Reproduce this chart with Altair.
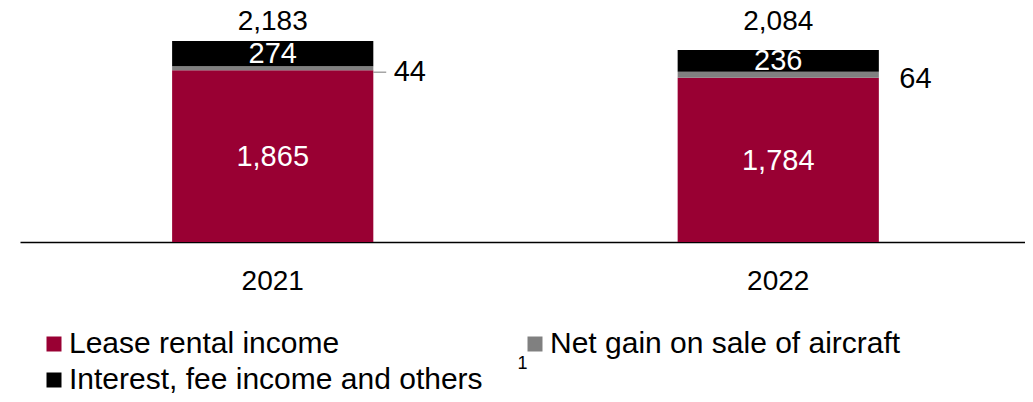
import altair as alt
import pandas as pd

years = ["2021", "2022"]
lease_income = [1865, 1784]
net_gain = [44, 64]
interest_fee = [274, 236]
totals = [2183, 2084]
leader_line = [True, False]

series_names = ["Lease rental income", "Net gain on sale of aircraft",
                "Interest, fee income and others"]
series_colors = ["#990033", "#808080", "#000000"]
footnote = ["1"]

rows = []
for i, yr in enumerate(years):
    for rank, (name, vals) in enumerate(zip(series_names, [lease_income, net_gain, interest_fee])):
        rows.append({"year": yr, "series": name, "value": vals[i], "rank": rank})
df = pd.DataFrame(rows)

lab = pd.DataFrame({"year": years, "lease": lease_income, "gain": net_gain,
                    "interest": interest_fee, "total": totals, "leader": leader_line})
lab["lease_mid"] = lab["lease"] / 2
lab["gain_mid"] = lab["lease"] + lab["gain"] / 2
lab["int_mid"] = lab["lease"] + lab["gain"] + lab["interest"] / 2

FS = 29

X = alt.X("year:N", scale=alt.Scale(paddingInner=0.602, paddingOuter=0.295, align=0.51),
          axis=alt.Axis(title=None, labelAngle=0, ticks=False, grid=False,
                        labelFontSize=28, labelColor="black", labelPadding=25,
                        domainColor="black", domainWidth=1.5))
yscale = alt.Scale(domain=[0, 2541], nice=False, zero=True)

bars = alt.Chart(df).mark_bar().encode(
    x=X,
    y=alt.Y("value:Q", stack="zero", scale=yscale, axis=None),
    color=alt.Color("series:N",
                    scale=alt.Scale(domain=series_names, range=series_colors),
                    legend=alt.Legend(title=None, orient="none", legendX=19, legendY=321,
                                      direction="horizontal",
                                      columns=2, columnPadding=37, rowPadding=6,
                                      symbolType="square", symbolSize=225,
                                      symbolStrokeWidth=0, symbolOpacity=1,
                                      labelFontSize=30, labelColor="black",
                                      labelLimit=1000, labelOffset=0, padding=0)),
    order=alt.Order("rank:Q"),
)

lease_text = alt.Chart(lab).mark_text(color="white", fontSize=FS, baseline="middle", dy=1).encode(
    x=X, y=alt.Y("lease_mid:Q", scale=yscale, axis=None),
    text=alt.Text("lease:Q", format=","))

int_text = alt.Chart(lab).mark_text(color="white", fontSize=FS, baseline="middle").encode(
    x=X, y=alt.Y("int_mid:Q", scale=yscale, axis=None),
    text=alt.Text("interest:Q", format=","))

total_text = alt.Chart(lab).transform_joinaggregate(
    top_total="max(total)").mark_text(color="black", fontSize=28, baseline="middle", dy=-19).encode(
    x=X, y=alt.Y("top_total:Q", scale=yscale, axis=None),
    text=alt.Text("total:Q", format=","))

gain_text = alt.Chart(lab).mark_text(color="black", fontSize=FS, baseline="middle",
                                     align="left", dx=121, dy=4).encode(
    x=X, y=alt.Y("gain_mid:Q", scale=yscale, axis=None),
    text=alt.Text("gain:Q", format=","))

leader = alt.Chart(lab).transform_filter("datum.leader").mark_tick(
    orient="horizontal", color="#808080", thickness=1.5, size=13,
    xOffset=107, yOffset=4).encode(
    x=X, y=alt.Y("gain_mid:Q", scale=yscale, axis=None))

note = alt.Chart(pd.DataFrame({"note": footnote})).mark_text(
    fontSize=18, color="black", baseline="middle").encode(
    text="note:N", x=alt.value(502.5), y=alt.value(355.5))

chart = alt.layer(bars, lease_text, int_text, total_text, gain_text, leader, note).properties(
    width=1005, height=234,
    padding={"left": 12, "top": 0, "right": 0, "bottom": 152},
    autosize=alt.AutoSizeParams(type="none"),
).configure(font="Liberation Sans").configure_view(stroke=None)

chart.save("out.html", embed_options={"renderer": "svg", "actions": False})
